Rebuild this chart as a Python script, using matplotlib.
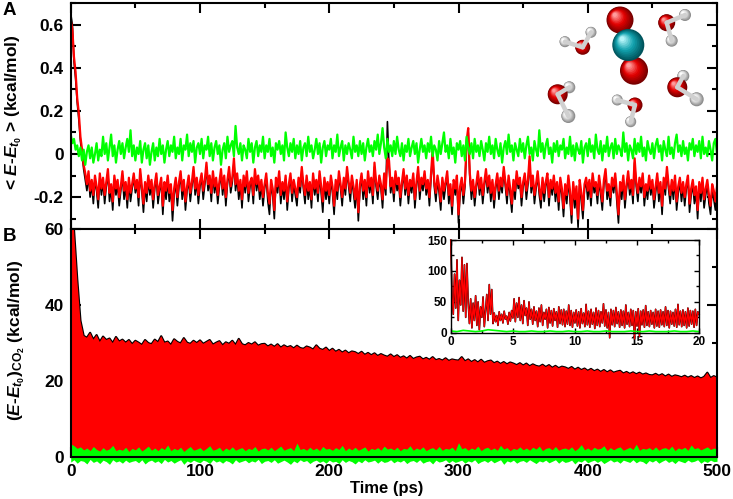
import numpy as np
import matplotlib
matplotlib.use('Agg')
import matplotlib.pyplot as plt
from matplotlib.patches import Circle
from matplotlib.ticker import MultipleLocator, FuncFormatter
from matplotlib.colors import LinearSegmentedColormap

plt.rcParams['font.family'] = ['Liberation Sans', 'DejaVu Sans']
plt.rcParams['font.weight'] = 'bold'
plt.rcParams['mathtext.fontset'] = 'custom'
plt.rcParams['mathtext.it'] = 'Liberation Sans:italic:bold'
plt.rcParams['mathtext.rm'] = 'Liberation Sans:bold'
plt.rcParams['mathtext.bf'] = 'Liberation Sans:bold'
plt.rcParams['axes.linewidth'] = 1.5

# ---- panel A: <E - E_t0> (kcal/mol), one value every 1.25 ps ----
dt_a = 1.25
black_a = [0.65, 0.60, 0.43, 0.35, 0.24, 0.16, 0.06, 0.00, -0.07, -0.12, -0.17, -0.10, -0.20, -0.14, -0.23, -0.12, -0.17, -0.25, -0.11, -0.19,
           -0.13, -0.23, -0.15, -0.09, -0.22, -0.16, -0.26, -0.12, -0.19, -0.14, -0.24, -0.17, -0.10, -0.21, -0.15, -0.25, -0.13, -0.22, -0.16, -0.11,
           -0.18, -0.14, -0.24, -0.09, -0.17, -0.27, -0.15, -0.22, -0.12, -0.19, -0.14, -0.25, -0.16, -0.11, -0.23, -0.17, -0.13, -0.28, -0.15, -0.21,
           -0.12, -0.22, -0.16, -0.31, -0.19, -0.13, -0.24, -0.15, -0.10, -0.21, -0.14, -0.26, -0.17, -0.12, -0.22, -0.15, -0.08, -0.19, -0.13, -0.23,
           -0.15, -0.11, -0.21, -0.14, -0.06, -0.17, -0.12, -0.22, -0.10, -0.18, -0.13, -0.23, -0.15, -0.09, -0.19, -0.12, -0.24, -0.14, -0.08, -0.18,
           -0.13, -0.04, -0.17, -0.11, -0.21, -0.14, -0.25, -0.12, -0.18, -0.10, -0.22, -0.15, -0.13, -0.23, -0.09, -0.17, -0.12, -0.21, -0.14, -0.24,
           -0.16, -0.11, -0.22, -0.28, -0.14, -0.19, -0.30, -0.13, -0.18, -0.10, -0.23, -0.15, -0.21, -0.12, -0.26, -0.16, -0.11, -0.22, -0.14, -0.19,
           -0.24, -0.13, -0.18, -0.08, -0.16, -0.23, -0.12, -0.21, -0.15, -0.25, -0.11, -0.19, -0.14, -0.22, -0.10, -0.18, -0.27, -0.13, -0.21, -0.15,
           -0.23, -0.12, -0.18, -0.28, -0.14, -0.21, -0.10, -0.16, -0.24, -0.13, -0.19, -0.08, -0.15, -0.22, -0.12, -0.18, -0.25, -0.14, -0.31, -0.16,
           -0.11, -0.21, -0.14, -0.24, -0.10, -0.18, -0.13, -0.23, -0.06, -0.15, -0.21, -0.12, -0.16, -0.25, -0.11, -0.19, 0.15, -0.05, -0.18, -0.13,
           -0.22, -0.10, -0.17, -0.13, -0.24, -0.15, -0.09, -0.19, -0.12, -0.23, -0.14, -0.18, -0.11, -0.25, -0.15, -0.08, -0.21, -0.13, -0.17, -0.10,
           -0.19, -0.14, -0.24, -0.11, 0.00, -0.15, -0.22, -0.12, -0.18, -0.26, -0.13, -0.21, -0.15, -0.10, -0.23, -0.16, -0.28, -0.14, -0.19, -0.12,
           -0.32, -0.18, -0.13, -0.23, -0.15, 0.04, 0.10, -0.11, -0.21, -0.14, -0.24, -0.16, -0.10, -0.19, -0.13, -0.23, -0.15, -0.09, -0.18, -0.12,
           -0.22, -0.14, -0.25, -0.16, -0.11, -0.21, -0.13, -0.18, -0.08, -0.15, -0.23, -0.12, -0.19, -0.27, -0.14, -0.21, -0.10, -0.16, -0.13, -0.24,
           -0.15, -0.11, -0.21, -0.14, -0.03, -0.18, -0.12, -0.23, -0.16, -0.10, -0.19, -0.25, -0.13, -0.22, -0.15, -0.11, -0.24, -0.14, -0.19, -0.12,
           -0.22, -0.15, -0.26, -0.13, -0.19, -0.29, -0.16, -0.23, -0.12, -0.21, -0.32, -0.15, -0.25, -0.18, -0.34, -0.14, -0.22, -0.30, -0.16, -0.13,
           -0.21, -0.14, -0.24, -0.11, -0.18, -0.15, -0.23, -0.12, -0.19, -0.26, -0.14, -0.09, -0.21, -0.16, -0.24, -0.13, -0.18, -0.11, -0.22, -0.32,
           -0.15, -0.21, -0.12, -0.25, -0.16, -0.10, -0.19, -0.14, -0.23, -0.04, -0.15, -0.22, -0.13, -0.18, -0.11, -0.24, -0.16, -0.21, -0.12, -0.19,
           -0.14, -0.25, -0.18, -0.11, -0.22, -0.15, -0.28, -0.13, -0.19, -0.08, -0.16, -0.23, -0.14, -0.21, -0.12, -0.26, -0.18, -0.13, -0.22, -0.15,
           -0.24, -0.16, -0.12, -0.27, -0.19, -0.14, -0.23, -0.18, -0.30, -0.15, -0.22, -0.13, -0.25, -0.19, -0.14, -0.23, -0.28, -0.16, -0.21, -0.26,
           -0.18]
red_a = [0.62, 0.58, 0.45, 0.38, 0.26, 0.19, 0.08, 0.02, -0.05, -0.09, -0.14, -0.08, -0.17, -0.12, -0.19, -0.10, -0.15, -0.21, -0.09, -0.16,
         -0.11, -0.19, -0.13, -0.07, -0.18, -0.14, -0.22, -0.10, -0.16, -0.12, -0.20, -0.15, -0.08, -0.17, -0.13, -0.21, -0.11, -0.18, -0.14, -0.09,
         -0.16, -0.12, -0.20, -0.07, -0.15, -0.23, -0.13, -0.18, -0.10, -0.16, -0.12, -0.21, -0.14, -0.09, -0.19, -0.15, -0.11, -0.24, -0.13, -0.17,
         -0.10, -0.18, -0.14, -0.26, -0.16, -0.11, -0.20, -0.13, -0.08, -0.17, -0.12, -0.22, -0.15, -0.10, -0.18, -0.13, -0.06, -0.16, -0.11, -0.19,
         -0.13, -0.09, -0.17, -0.12, -0.04, -0.14, -0.10, -0.18, -0.08, -0.15, -0.11, -0.19, -0.13, -0.07, -0.16, -0.10, -0.20, -0.12, -0.06, -0.15,
         -0.11, -0.02, -0.14, -0.09, -0.17, -0.12, -0.21, -0.10, -0.15, -0.08, -0.18, -0.13, -0.11, -0.19, -0.07, -0.14, -0.10, -0.17, -0.12, -0.20,
         -0.14, -0.09, -0.18, -0.23, -0.12, -0.16, -0.26, -0.11, -0.15, -0.08, -0.19, -0.13, -0.17, -0.10, -0.22, -0.14, -0.09, -0.18, -0.12, -0.16,
         -0.20, -0.11, -0.15, -0.06, -0.14, -0.19, -0.10, -0.17, -0.13, -0.21, -0.09, -0.16, -0.12, -0.18, -0.08, -0.15, -0.22, -0.11, -0.17, -0.13,
         -0.19, -0.10, -0.15, -0.24, -0.12, -0.17, -0.08, -0.14, -0.20, -0.11, -0.16, -0.06, -0.13, -0.18, -0.10, -0.15, -0.21, -0.12, -0.27, -0.14,
         -0.09, -0.17, -0.12, -0.20, -0.08, -0.15, -0.11, -0.19, -0.04, -0.13, -0.17, -0.10, -0.14, -0.21, -0.09, -0.16, -0.02, -0.03, -0.15, -0.11,
         -0.18, -0.08, -0.14, -0.11, -0.20, -0.13, -0.07, -0.16, -0.10, -0.19, -0.12, -0.15, -0.09, -0.21, -0.13, -0.06, -0.17, -0.11, -0.14, -0.08,
         -0.16, -0.12, -0.20, -0.09, 0.02, -0.13, -0.18, -0.10, -0.15, -0.22, -0.11, -0.17, -0.13, -0.08, -0.19, -0.14, -0.24, -0.12, -0.16, -0.10,
         -0.28, -0.15, -0.11, -0.19, -0.13, 0.06, 0.12, -0.09, -0.17, -0.12, -0.20, -0.14, -0.08, -0.16, -0.11, -0.19, -0.13, -0.07, -0.15, -0.10,
         -0.18, -0.12, -0.21, -0.14, -0.09, -0.17, -0.11, -0.15, -0.06, -0.13, -0.19, -0.10, -0.16, -0.23, -0.12, -0.17, -0.08, -0.14, -0.11, -0.20,
         -0.13, -0.09, -0.17, -0.12, -0.01, -0.15, -0.10, -0.19, -0.14, -0.08, -0.16, -0.21, -0.11, -0.18, -0.13, -0.09, -0.20, -0.12, -0.16, -0.10,
         -0.18, -0.13, -0.22, -0.11, -0.16, -0.25, -0.14, -0.19, -0.10, -0.17, -0.28, -0.13, -0.21, -0.15, -0.30, -0.12, -0.18, -0.26, -0.14, -0.11,
         -0.17, -0.12, -0.20, -0.09, -0.15, -0.13, -0.19, -0.10, -0.16, -0.22, -0.12, -0.07, -0.17, -0.14, -0.20, -0.11, -0.15, -0.09, -0.18, -0.28,
         -0.13, -0.17, -0.10, -0.21, -0.14, -0.08, -0.16, -0.12, -0.19, -0.02, -0.13, -0.18, -0.11, -0.15, -0.09, -0.20, -0.14, -0.17, -0.10, -0.16,
         -0.12, -0.21, -0.15, -0.09, -0.18, -0.13, -0.24, -0.11, -0.16, -0.06, -0.14, -0.19, -0.12, -0.17, -0.10, -0.22, -0.15, -0.11, -0.18, -0.13,
         -0.20, -0.14, -0.10, -0.23, -0.16, -0.12, -0.19, -0.15, -0.26, -0.13, -0.18, -0.11, -0.21, -0.16, -0.12, -0.19, -0.24, -0.14, -0.17, -0.22,
         -0.15]
green_a = [0.09, 0.05, 0.07, 0.02, 0.04, -0.01, 0.03, -0.03, 0.02, -0.05, 0.01, 0.04, -0.02, 0.03, -0.04, 0.00, 0.05, -0.03, 0.02, -0.01,
           0.08, 0.00, 0.05, -0.03, 0.03, 0.09, -0.01, 0.04, -0.04, 0.02, 0.06, 0.00, 0.05, -0.02, 0.03, 0.07, 0.01, 0.11, -0.01, 0.04,
           -0.03, 0.03, 0.00, 0.06, -0.04, 0.02, 0.05, -0.02, 0.04, -0.05, 0.01, 0.05, -0.03, 0.03, -0.01, 0.07, 0.00, 0.04, -0.04, 0.02,
           0.06, -0.01, 0.04, 0.01, 0.08, -0.02, 0.03, 0.00, 0.07, -0.03, 0.04, 0.02, 0.09, -0.01, 0.05, 0.01, 0.06, -0.04, 0.03, 0.05,
           0.00, 0.07, -0.02, 0.04, 0.02, 0.08, -0.01, 0.05, -0.03, 0.03, 0.06, 0.00, 0.04, -0.05, 0.02, 0.05, -0.02, 0.08, 0.01, 0.04,
           0.06, -0.01, 0.13, 0.03, 0.00, 0.05, -0.03, 0.04, 0.02, -0.02, 0.07, 0.01, 0.05, -0.04, 0.03, 0.06, -0.01, 0.04, 0.01, 0.08,
           -0.02, 0.04, 0.01, 0.07, -0.01, 0.03, -0.04, 0.05, 0.02, 0.06, 0.00, 0.04, -0.03, 0.10, 0.03, -0.01, 0.05, 0.01, 0.07, -0.02,
           0.04, 0.00, 0.06, -0.03, 0.03, 0.05, -0.01, 0.08, 0.01, 0.04, -0.02, 0.02, 0.07, 0.00, 0.05, -0.04, 0.03, 0.06, -0.01, 0.04,
           0.02, 0.07, -0.02, 0.04, 0.01, 0.09, -0.01, 0.03, 0.06, -0.03, 0.04, 0.00, 0.05, 0.02, -0.02, 0.08, 0.01, 0.04, -0.01, 0.06,
           0.00, 0.05, -0.03, 0.03, 0.07, 0.01, 0.04, -0.01, 0.06, 0.02, 0.09, 0.00, 0.05, 0.12, 0.03, -0.02, 0.07, 0.01, 0.04, -0.01,
           0.06, 0.00, 0.08, 0.02, -0.01, 0.05, -0.03, 0.04, 0.01, 0.07, -0.01, 0.03, 0.06, 0.00, 0.05, -0.04, 0.02, 0.07, 0.01, 0.04,
           -0.02, 0.05, 0.01, 0.08, -0.01, 0.04, 0.02, -0.03, 0.06, 0.00, 0.05, 0.10, 0.01, 0.04, -0.02, 0.07, 0.00, 0.03, -0.04, 0.05,
           0.02, 0.06, -0.01, 0.04, -0.03, 0.08, 0.03, 0.00, 0.05, -0.02, 0.07, 0.01, 0.04, -0.01, 0.06, 0.02, -0.03, 0.05, 0.01, 0.08,
           0.00, 0.04, -0.02, 0.07, 0.02, -0.01, 0.05, -0.04, 0.03, 0.06, 0.00, 0.09, 0.01, 0.04, -0.03, 0.05, 0.02, -0.01, 0.07, 0.01,
           0.05, -0.02, 0.04, 0.08, 0.00, 0.03, -0.03, 0.06, 0.02, -0.01, 0.11, 0.01, 0.05, -0.02, 0.04, 0.07, 0.00, 0.03, -0.04, 0.05,
           0.01, 0.06, -0.01, 0.04, 0.02, 0.07, -0.02, 0.03, 0.00, 0.08, -0.01, 0.04, -0.03, 0.05, 0.02, 0.00, 0.06, -0.04, 0.03, 0.05,
           -0.01, 0.07, 0.01, 0.04, -0.02, 0.09, 0.02, 0.00, 0.06, -0.03, 0.04, 0.01, 0.08, -0.01, 0.03, 0.05, -0.02, 0.07, 0.00, 0.04,
           0.02, -0.01, 0.10, 0.01, 0.05, -0.03, 0.04, 0.02, -0.02, 0.07, 0.00, 0.05, 0.01, 0.08, -0.01, 0.03, -0.03, 0.06, 0.02, 0.00,
           0.05, -0.02, 0.04, 0.07, 0.01, 0.04, -0.03, 0.06, 0.02, -0.01, 0.08, 0.00, 0.03, -0.02, 0.05, 0.09, 0.01, 0.04, -0.01, 0.06,
           0.00, 0.03, -0.03, 0.05, 0.02, 0.07, -0.01, 0.04, 0.01, 0.06, -0.02, 0.08, 0.00, 0.03, -0.01, 0.06, 0.02, -0.03, 0.05, 0.07,
           0.00]

# ---- panel B: (E - E_t0)_CO2, upper edge of the dense trace and the green band, every 2.5 ps ----
dt_b = 2.5
top_b = [150, 60, 47, 36, 32, 31.5, 32.8, 31.0, 32.2, 30.4, 31.8, 30.9, 31.3, 30.1, 31.7, 30.5, 31.0, 30.2, 30.9, 29.8,
         30.7, 30.2, 29.6, 30.9, 30.1, 29.8, 31.0, 30.3, 31.9, 30.2, 30.5, 29.6, 31.1, 30.4, 30.0, 31.4, 30.2, 29.9, 30.7, 30.1,
         30.8, 29.9, 30.4, 30.9, 29.7, 30.2, 30.6, 29.5, 30.3, 29.9, 30.7, 29.6, 31.2, 29.8, 29.5, 30.1, 29.7, 30.3, 29.4, 29.8,
         29.9, 29.2, 29.7, 29.1, 29.8, 28.9, 29.5, 29.0, 29.3, 28.7, 29.4, 28.8, 28.6, 29.2, 28.9, 28.4, 29.5, 28.6, 28.3, 28.9,
         28.0, 28.6, 27.8, 28.3, 27.6, 28.1, 27.4, 27.9, 27.7, 27.2, 27.8, 27.0, 27.5, 26.9, 27.4, 26.7, 27.2, 26.8, 26.5, 27.1,
         26.4, 26.9, 26.2, 26.6, 26.0, 26.7, 25.9, 26.3, 26.5, 25.8, 26.2, 25.7, 26.4, 25.6, 25.9, 25.5, 26.1, 25.4, 25.8, 25.6,
         25.5, 26.4, 25.3, 25.8, 25.1, 25.6, 25.0, 25.7, 24.9, 25.3, 25.5, 24.8, 25.2, 24.6, 25.1, 24.5, 25.0, 24.7, 24.3, 24.8,
         24.2, 24.7, 24.0, 24.5, 24.1, 23.9, 24.4, 23.8, 24.3, 23.6, 24.1, 23.5, 23.9, 23.7, 23.3, 23.8, 23.1, 23.6, 23.0, 23.4,
         22.8, 23.3, 22.7, 23.1, 22.5, 23.0, 22.4, 22.9, 22.3, 22.6, 22.8, 22.1, 22.5, 22.0, 22.4, 21.9, 22.3, 21.8, 22.1, 21.7,
         21.6, 22.0, 21.5, 21.9, 21.3, 21.8, 21.2, 21.6, 21.4, 21.1, 21.5, 21.0, 21.4, 20.9, 21.3, 20.8, 21.2, 22.3, 20.9, 21.4, 21.0]
green_top_b = [3.6, 3.1, 2.4, 2.8, 2.0, 2.5, 1.8, 2.9, 2.1, 1.7, 2.6, 1.9, 2.3, 3.2, 1.8, 2.2, 1.9, 2.7, 1.6, 2.4,
               2.0, 2.8, 1.7, 2.3, 3.0, 1.9, 2.5, 1.8, 2.6, 2.1, 3.3, 1.8, 2.4, 2.0, 2.7, 1.6, 2.3, 2.9, 1.9, 2.2,
               2.6, 1.8, 2.4, 3.1, 1.9, 2.2, 2.7, 1.7, 2.5, 2.0, 2.8, 1.9, 2.3, 2.6, 1.8, 2.4, 2.1, 2.9, 1.7, 2.3,
               2.5, 2.0, 2.7, 1.8, 2.4, 3.0, 1.9, 2.3, 2.6, 1.8, 3.8, 2.1, 2.4, 1.9, 2.7, 2.0, 2.5, 1.8, 2.9, 2.2,
               2.4, 1.9, 2.6, 2.1, 3.2, 1.8, 2.5, 2.0, 2.7, 1.9, 2.3, 2.8, 1.7, 2.4, 2.1, 2.6, 1.9, 3.0, 2.2, 2.5,
               2.0, 2.7, 1.8, 2.4, 2.2, 3.1, 1.9, 2.5, 2.1, 2.8, 1.8, 2.3, 2.6, 2.0, 2.9, 1.9, 2.4, 2.2, 2.7, 1.8,
               3.9, 2.3, 2.6, 1.9, 2.5, 2.1, 3.0, 1.8, 2.4, 2.7, 2.0, 2.5, 1.9, 3.2, 2.2, 2.6, 1.8, 2.4, 2.1, 2.8,
               2.0, 2.5, 1.9, 2.7, 2.2, 3.0, 1.8, 2.4, 2.6, 2.0, 2.9, 1.9, 2.3, 2.5, 2.1, 2.8, 1.8, 2.4, 3.4, 2.0,
               2.5, 1.9, 2.7, 2.2, 2.4, 3.1, 1.8, 2.6, 2.0, 2.5, 2.8, 1.9, 2.3, 2.7, 2.1, 3.5, 1.9, 2.4, 2.2, 2.6,
               2.0, 2.8, 1.9, 2.4, 2.6, 2.1, 3.0, 1.8, 2.5, 2.2, 2.7, 1.9, 3.3, 2.3, 2.6, 2.0, 2.4, 2.8, 2.1, 2.5, 2.2]
green_low_b = [-1.2, -0.6, -1.5, -0.8, -1.0, -1.7, -0.5, -1.3, -0.9, -1.6, -0.7, -1.1, -1.8, -0.6, -1.2, -0.9, -1.5, -0.7, -1.3, -1.0,
               -0.8, -1.4, -0.6, -1.7, -1.0, -0.7, -1.3, -0.9, -1.6, -0.5, -1.2, -0.8, -1.5, -1.0, -0.6, -1.8, -0.9, -1.3, -0.7, -1.1,
               -1.4, -0.7, -1.0, -1.6, -0.6, -1.2, -0.9, -1.5, -0.8, -1.1, -1.7, -0.6, -1.3, -1.0, -0.7, -1.4, -0.9, -1.2, -0.5, -1.6,
               -1.0, -0.8, -1.3, -0.6, -1.5, -1.1, -0.7, -1.2, -1.8, -0.9, -1.4, -0.6, -1.1, -0.8, -1.6, -1.0, -0.7, -1.3, -0.9, -1.5,
               -0.7, -1.2, -1.0, -1.6, -0.6, -1.3, -0.8, -1.1, -1.7, -0.9, -1.4, -0.6, -1.2, -1.0, -0.7, -1.5, -0.8, -1.3, -1.1, -0.6,
               -1.4, -0.9, -1.2, -0.7, -1.6, -1.0, -0.8, -1.3, -0.6, -1.5, -1.1, -0.9, -1.7, -0.7, -1.2, -1.0, -0.6, -1.4, -0.8, -1.3,
               -1.0, -0.7, -1.5, -0.9, -1.2, -0.6, -1.6, -1.1, -0.8, -1.3, -0.7, -1.4, -1.0, -0.6, -1.8, -0.9, -1.2, -0.7, -1.5, -1.0,
               -0.8, -1.3, -0.6, -1.1, -1.6, -0.9, -1.2, -0.7, -1.4, -1.0, -0.6, -1.5, -0.8, -1.3, -1.1, -0.7, -1.7, -0.9, -1.2, -0.6,
               -1.4, -1.0, -0.7, -1.3, -0.8, -1.6, -1.1, -0.6, -1.2, -0.9, -1.5, -0.7, -1.0, -1.3, -0.6, -1.4, -0.9, -1.1, -1.7, -0.8,
               -1.2, -0.7, -1.5, -1.0, -0.6, -1.3, -0.9, -1.6, -0.8, -1.1, -1.4, -0.7, -1.2, -1.0, -0.6, -1.5, -0.9, -1.3, -0.7, -1.1, -1.0]

# ---- inset: first 20 ps, one value every 0.1 ps ----
dt_in = 0.1
red_in = [150, 60, 30, 95, 40, 118, 20, 85, 45, 122, 35, 110, 25, 112, 50, 15,
          55, 8, 48, 20, 60, 12, 50, 5, 42, 25, 58, 10, 35, 62, 20, 78, 30, 70,
          15, 32, 18, 28, 12, 34, 20, 30, 16, 35, 22, 27, 14, 33, 19, 36, 24,
          55, 18, 48, 25, 57, 20, 45, 15, 52, 28, 40, 12, 50, 22, 38,
          14, 42, 20, 35, 10, 40, 18, 45, 12, 33, 22, 38, 8, 41, 16, 36, 11, 39, 20, 34, 9, 42, 15, 37, 13,
          38, 10, 35, 14, 45, 12, 36, 9, 33, 16,
          37, 11, 34, 8, 39, 15, 32, 10, 46, 13,
          35, 9, 38, 14, 33, 7, 40, 12, 36, 10,
          34, 16, 47, 11, 37, 8, 33, -8, 38, 13,
          36, 10, 41, 15, 34, 9, 37, 12, 35, 8,
          45, 14, 33, 10, 38, 12, 36, -10, 34, 11,
          39, -6, 35, 13, 37, 9, 44, 12, 34, 10,
          36, 14, 33, 8, 38, 11, 35, 9, 37, 13,
          34, 10, 42, 12, 36, 8, 35, 14, 33, 11,
          38, 9, 46, 13, 35, 10, 37, 12, 34, 8,
          40, 11, 36, 14, 35, 9, 38, 12, 34, 30]
dt_gin = 0.5
green_in = [3, 2, 4, 3, 2, 3, 5, 4, 3, 2, 3, 2, 2, 3, 2, 2, 3, 2, 2, 3, 2,
            2, 3, 2, 2, 3, 2, 2, 2, 3, 2, 2, 3, 2, 2, 2, 3, 2, 2, 3, 2]

t_a = np.arange(len(red_a)) * dt_a
t_b = np.arange(len(top_b)) * dt_b
t_in = np.arange(len(red_in)) * dt_in
t_gin = np.arange(len(green_in)) * dt_gin

# molecule sketch (pixel positions in the figure): (x, y, radius, kind)
atoms = [(565, 41.7, 5.5, 'H'), (591, 32.3, 5.5, 'H'), (582.7, 47.3, 7.5, 'O'),
         (685, 15, 6, 'H'), (671.7, 40.7, 6, 'H'), (666.7, 22.7, 8.5, 'O'),
         (569.3, 87.3, 6, 'H'), (568.3, 116, 7, 'H'), (557.7, 94.3, 10, 'O'),
         (617.3, 100, 5.5, 'H'), (630.7, 121.7, 5.5, 'H'), (635, 105, 7.5, 'O'),
         (683.3, 76, 6, 'H'), (696.7, 99.3, 7, 'H'), (677.3, 87.3, 10, 'O'),
         (620, 20, 13.5, 'O'), (634, 70.7, 14, 'O'), (628.3, 45, 16, 'C')]
bonds = [(2, 0), (2, 1), (5, 3), (5, 4), (8, 6), (8, 7), (11, 9), (11, 10), (14, 12), (14, 13)]
atom_colors = {'O': ['#780000', '#e40000', '#ff9c9c'],
               'C': ['#00545c', '#12a2ae', '#b4f4f8'],
               'H': ['#8a8a8a', '#dedede', '#ffffff']}

fig = plt.figure(figsize=(7.33, 4.99), dpi=100)
left, width = 0.0965, 0.8817
axA = fig.add_axes([left, 0.5401, width, 0.4539])
axB = fig.add_axes([left, 0.0832, width, 0.4569])

axA.plot(t_a, black_a, color='black', lw=1.2)
axA.plot(t_a, red_a, color='red', lw=1.6)
axA.plot(t_a, green_a, color='#00ff00', lw=1.6)
axA.set_xlim(0, 500)
axA.set_ylim(-0.35, 0.7)
axA.xaxis.set_major_locator(MultipleLocator(100))
axA.xaxis.set_minor_locator(MultipleLocator(50))
axA.yaxis.set_major_locator(MultipleLocator(0.2))
axA.yaxis.set_minor_locator(MultipleLocator(0.1))
axA.yaxis.set_major_formatter(FuncFormatter(lambda v, p: '0' if abs(v) < 1e-9 else f'{v:.1f}'))
axA.tick_params(labelbottom=False)

axB.plot(t_b, top_b, color='black', lw=1.6, zorder=1.5)
axB.fill_between(t_b, 0, top_b, color='red', lw=0, zorder=1.6)
axB.fill_between(t_b, green_low_b, green_top_b, color='#00ff00', lw=0, zorder=1.7, clip_on=False)
axB.set_xlim(0, 500)
axB.set_ylim(0, 60)
axB.xaxis.set_major_locator(MultipleLocator(100))
axB.xaxis.set_minor_locator(MultipleLocator(50))
axB.yaxis.set_major_locator(MultipleLocator(20))
axB.yaxis.set_minor_locator(MultipleLocator(10))

for ax in (axA, axB):
    ax.tick_params(which='both', direction='in', top=True, right=True, width=1.5, labelsize=12.5, pad=5)
    ax.tick_params(which='major', length=7)
    ax.tick_params(which='minor', length=3.5)

# inset
axI = fig.add_axes([0.615, 0.333, 0.3387, 0.186])
axI.plot(t_in, red_in, color='black', lw=1.2, clip_on=False)
axI.plot(t_in, red_in, color='red', lw=0.9, clip_on=False)
axI.plot(t_gin, green_in, color='#00ff00', lw=1.2)
axI.set_xlim(0, 20)
axI.set_ylim(0, 150)
axI.xaxis.set_major_locator(MultipleLocator(5))
axI.xaxis.set_minor_locator(MultipleLocator(2.5))
axI.yaxis.set_major_locator(MultipleLocator(50))
axI.yaxis.set_minor_locator(MultipleLocator(25))
axI.tick_params(which='both', direction='in', top=True, right=True, width=1, labelsize=8.5, pad=2.5)
axI.tick_params(which='major', length=3.5)
axI.tick_params(which='minor', length=2)
for s in axI.spines.values():
    s.set_linewidth(1.0)

# labels
fig.text(14 / 733, 1 - 112 / 499, r'< $E$-$E_{\mathit{t_0}}$ > (kcal/mol)', rotation=90,
         ha='center', va='center', fontsize=12.5, fontweight='bold')
fig.text(17 / 733, 1 - 340 / 499, r'($E$-$E_{\mathit{t_0}}$)$_{\mathrm{CO_2}}$ (kcal/mol)', rotation=90,
         ha='center', va='center', fontsize=12.5, fontweight='bold')
fig.text(387 / 733, 1 - 488 / 499, 'Time (ps)', ha='center', va='center', fontsize=12, fontweight='bold')
fig.text(3 / 733, 1 - 2 / 499, 'A', ha='left', va='top', fontsize=13.5, fontweight='bold')
fig.text(3 / 733, 1 - 228 / 499, 'B', ha='left', va='top', fontsize=13.5, fontweight='bold')

# molecules drawn in pixel coordinates
axM = fig.add_axes([0, 0, 1, 1], zorder=5)
axM.set_xlim(0, 733)
axM.set_ylim(499, 0)
axM.axis('off')
axM.patch.set_alpha(0)
for i, j in bonds:
    xo, yo = atoms[i][0], atoms[i][1]
    xh, yh = atoms[j][0], atoms[j][1]
    axM.plot([xo, xh], [yo, yh], color='#d0d0d0', lw=3.2, solid_capstyle='round')
for x, y, r, kind in atoms:
    cmap = LinearSegmentedColormap.from_list(kind, atom_colors[kind])
    n = 12
    for k in range(n):
        f = k / (n - 1)
        axM.add_patch(Circle((x - 0.38 * r * f, y - 0.38 * r * f), r * (1 - 0.85 * f),
                             color=cmap(f), lw=0))

fig.savefig('out.png', dpi=100)
